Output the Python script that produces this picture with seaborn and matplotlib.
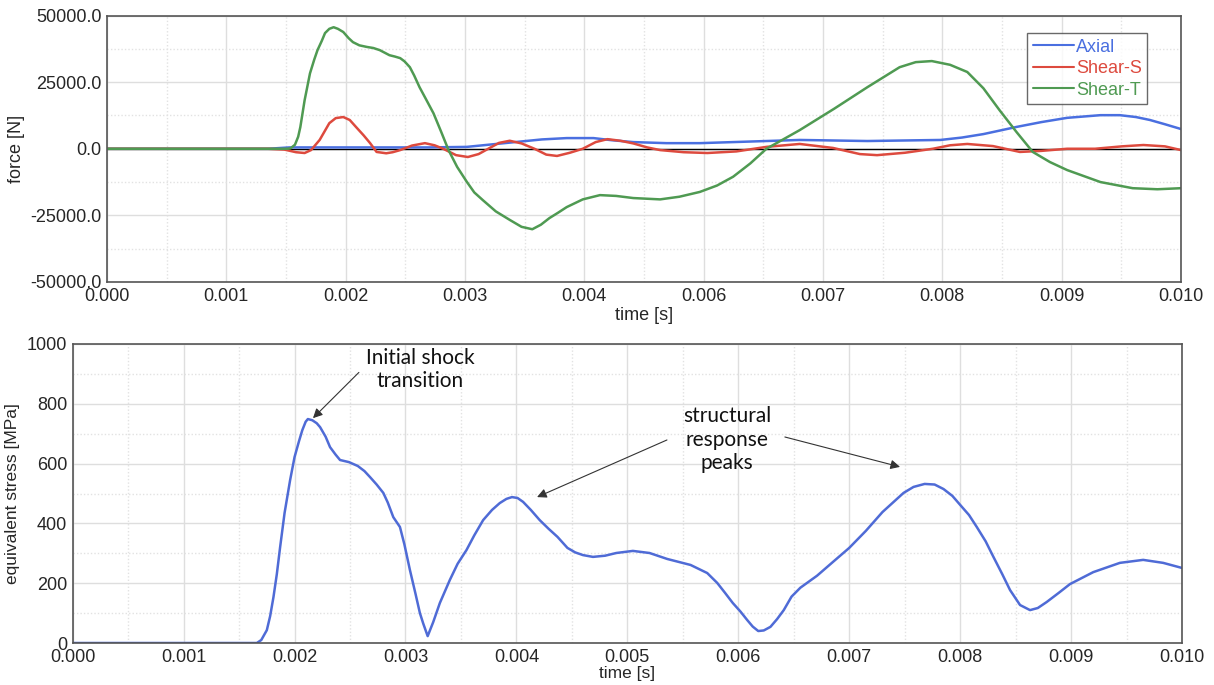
import numpy as np
import pandas as pd
import seaborn as sns
import matplotlib.pyplot as plt
from matplotlib.ticker import FixedLocator, MultipleLocator

# --- data (time in s) ---
axial_t = [0.0, 0.0015, 0.0017, 0.0030, 0.00335, 0.00355, 0.0038, 0.00405, 0.00428, 0.00453,
           0.0047, 0.0049, 0.00521, 0.00552, 0.00583, 0.00614, 0.00645, 0.00708, 0.00776,
           0.00796, 0.00816, 0.00831, 0.00847, 0.0087, 0.00894, 0.00925, 0.00943, 0.00958,
           0.00971, 0.00985, 0.0100]
axial_f = [0, 0, 500, 500, 700, 1500, 2500, 3500, 4000, 4000,
           3200, 2500, 2100, 2100, 2500, 2900, 3300, 2900, 3300,
           4200, 5500, 6800, 8200, 10000, 11600, 12600, 12600, 11900,
           10800, 9200, 7400]

shear_s_t = [0.0, 0.0015, 0.00165, 0.00176, 0.00184, 0.0019, 0.00198, 0.00207, 0.00213, 0.0022,
             0.00226, 0.00232, 0.00239, 0.00245, 0.00251, 0.0026, 0.00266, 0.00273, 0.00284,
             0.00296, 0.00305, 0.00313, 0.00325, 0.00336, 0.00346, 0.00355, 0.00365, 0.00375,
             0.00386, 0.00398, 0.00409, 0.00419, 0.00431, 0.00443, 0.00455, 0.00466, 0.00478,
             0.0049, 0.00503, 0.00515, 0.00537, 0.00559, 0.00586, 0.00614, 0.00645, 0.00676,
             0.00701, 0.00717, 0.00743, 0.00769, 0.00785, 0.00801, 0.00825, 0.0085, 0.0087,
             0.00894, 0.0092, 0.00945, 0.00965, 0.00985, 0.0100]
shear_s_f = [0, 0, -300, -1300, -1600, -500, 3300, 9600, 11500, 11900,
             10800, 8100, 5000, 2100, -1200, -1700, -1300, -500, 1200,
             2100, 1300, 0, -2400, -3100, -2000, 0, 2200, 3000,
             2000, 0, -2200, -2700, -1500, 0, 2500, 3600, 3000,
             2000, 500, -500, -1300, -1600, -1000, 700, 1800, 300,
             -2000, -2400, -1500, 0, 1300, 1800, 1000, -1200, -800,
             0, 0, 900, 1400, 900, -500]

shear_t_t = [0.0, 0.00168, 0.00171, 0.00175, 0.00178, 0.0018, 0.00184, 0.00189, 0.00193, 0.00196,
             0.0020, 0.00203, 0.00207, 0.00211, 0.00215, 0.0022, 0.00225, 0.00229, 0.00235,
             0.00242, 0.00248, 0.00254, 0.00263, 0.00268, 0.00273, 0.00277, 0.00282, 0.00286,
             0.00291, 0.00297, 0.00304, 0.00311, 0.00318, 0.00326, 0.00335, 0.00342, 0.0035,
             0.00362, 0.00375, 0.00386, 0.00396, 0.00404, 0.00412, 0.0042, 0.00428, 0.00443,
             0.00459, 0.00474, 0.0049, 0.00515, 0.00533, 0.00552, 0.00568, 0.00583, 0.00599,
             0.00614, 0.0063, 0.00645, 0.00677, 0.00708, 0.00738, 0.00753, 0.00768, 0.00785,
             0.00801, 0.00816, 0.00831, 0.00847, 0.00862, 0.00878, 0.00894, 0.00925, 0.00955,
             0.00978, 0.0100]
shear_t_f = [0, 0, 200, 1500, 4500, 8100, 18200, 28300, 33500, 37000,
             40500, 43400, 45000, 45600, 45000, 43800, 41500, 40000, 38800,
             38200, 37800, 37000, 35100, 34600, 34000, 32800, 30600, 27500,
             23100, 18600, 13300, 6500, -500, -6800, -12400, -16400, -19300,
             -23500, -26700, -29300, -30200, -28500, -26000, -24000, -21900, -19000,
             -17400, -17700, -18500, -19000, -18000, -16200, -13800, -10500, -5500,
             0, 3600, 7000, 15000, 23100, 30600, 32500, 32900, 31500,
             28800, 22700, 14500, 6200, -1200, -5000, -8000, -12500, -14800,
             -15200, -14800]

stress_t = [0.0, 0.00166, 0.0017, 0.00175, 0.00178, 0.00181, 0.00184, 0.00187, 0.00191, 0.00196,
            0.0020, 0.00204, 0.00207, 0.0021, 0.00212, 0.00216, 0.0022, 0.00223, 0.00228,
            0.00232, 0.00237, 0.00241, 0.00249, 0.00257, 0.00263, 0.00268, 0.00274, 0.0028,
            0.00284, 0.00289, 0.00295, 0.00299, 0.00304, 0.00309, 0.00313, 0.00316, 0.0032,
            0.00325, 0.00331, 0.0034, 0.00347, 0.00355, 0.00362, 0.0037, 0.00378, 0.00385,
            0.00391, 0.00396, 0.00401, 0.00406, 0.00413, 0.00421, 0.00429, 0.00437, 0.00446,
            0.00453, 0.0046, 0.00469, 0.0048, 0.0049, 0.00505, 0.0052, 0.00536, 0.00557,
            0.00572, 0.00581, 0.00588, 0.00595, 0.00602, 0.00608, 0.00613, 0.00618, 0.00623,
            0.00629, 0.00635, 0.00641, 0.00648, 0.00656, 0.00671, 0.00685, 0.0070, 0.00715,
            0.0073, 0.00749, 0.00758, 0.00768, 0.00777, 0.00785, 0.00793, 0.0080, 0.00808,
            0.00815, 0.00823, 0.0083, 0.00838, 0.00845, 0.00854, 0.00863, 0.0087, 0.00878,
            0.00889, 0.00899, 0.0092, 0.00944, 0.00965, 0.00983, 0.0100]
stress_v = [0, 0, 10, 43, 90, 154, 230, 321, 435, 545,
            622, 675, 712, 740, 749, 745, 735, 722, 690,
            655, 630, 612, 605, 592, 575, 555, 530, 502,
            470, 421, 388, 330, 244, 165, 100, 65, 23,
            70, 134, 211, 265, 311, 360, 411, 445, 468,
            482, 488, 485, 472, 445, 411, 382, 355, 318,
            303, 294, 288, 292, 301, 308, 301, 281, 261,
            234, 201, 168, 134, 105, 77, 55, 40, 42,
            54, 80, 110, 155, 185, 225, 270, 318, 375,
            438, 502, 522, 532, 530, 515, 492, 462, 428,
            388, 340, 288, 230, 177, 127, 110, 117, 137,
            168, 197, 237, 268, 278, 268, 251]

components = ["Axial", "Shear-S", "Shear-T"]
comp_colors = ["#4a6fe0", "#dd4a3e", "#4f9a52"]
top_xticklabels = ["0.000", "0.001", "0.002", "0.003", "0.004", "0.006", "0.007", "0.008", "0.009", "0.010"]
top_yticklabels = ["-50000.0", "-25000.0", "0.0", "25000.0", "50000.0"]
bot_xticklabels = ["0.000", "0.001", "0.002", "0.003", "0.004", "0.005", "0.006", "0.007", "0.008", "0.009", "0.010"]

force_df = pd.concat([
    pd.DataFrame({"time": axial_t, "force": axial_f, "component": "Axial"}),
    pd.DataFrame({"time": shear_s_t, "force": shear_s_f, "component": "Shear-S"}),
    pd.DataFrame({"time": shear_t_t, "force": shear_t_f, "component": "Shear-T"}),
])
stress_df = pd.DataFrame({"time": stress_t, "stress": stress_v})

sns.set_style("white")
plt.rcParams["font.family"] = ["Liberation Sans", "DejaVu Sans"]

fig = plt.figure(figsize=(12.14, 6.85), dpi=100)
W, H = 1214, 685
ax1 = fig.add_axes([107 / W, 1 - 282 / H, (1181 - 107) / W, (282 - 15.5) / H])
ax2 = fig.add_axes([72.7 / W, 1 - 643 / H, (1182 - 72.7) / W, (643 - 344) / H])

def style_grid(ax):
    ax.grid(which="major", color="#dedede", lw=1.0, ls="-")
    ax.grid(which="minor", color="#e2e2e2", lw=1.0, ls=(0, (1, 1.5)))
    ax.set_axisbelow(True)
    ax.tick_params(which="both", length=0, labelsize=13, pad=4)
    for s in ax.spines.values():
        s.set_color("#555555")
        s.set_linewidth(1.2)

# top: forces
sns.lineplot(data=force_df, x="time", y="force", hue="component", hue_order=components,
             palette=comp_colors, estimator=None, sort=False, lw=1.8, ax=ax1)
ax1.axhline(0, color="black", lw=1.0, zorder=1.5)
ax1.set_xlim(0, 0.010)
ax1.set_ylim(-50000, 50000)
xt = np.linspace(0, 0.010, 10)
ax1.xaxis.set_major_locator(FixedLocator(xt))
ax1.xaxis.set_minor_locator(FixedLocator(xt[:-1] + 0.010 / 18))
ax1.set_xticklabels(top_xticklabels)
ax1.yaxis.set_minor_locator(MultipleLocator(12500))
ax1.set_yticks([-50000, -25000, 0, 25000, 50000])
ax1.set_yticklabels(top_yticklabels)
style_grid(ax1)
ax1.set_xlabel("time [s]", fontsize=13, labelpad=2)
ax1.set_ylabel("force [N]", fontsize=13, labelpad=4)

leg = ax1.legend(loc="upper left", bbox_to_anchor=(0.857, 0.934), borderaxespad=0,
                 fancybox=False, frameon=True, fontsize=13, handlelength=2.3,
                 handletextpad=0.1, labelspacing=0.25, borderpad=0.3, title=None)
leg.get_frame().set_edgecolor("#444444")
leg.get_frame().set_linewidth(1.0)
for txt, c in zip(leg.get_texts(), comp_colors):
    txt.set_color(c)
for ln in leg.get_lines():
    ln.set_linewidth(1.5)

# bottom: equivalent stress
sns.lineplot(data=stress_df, x="time", y="stress", color="#4f6bd6", lw=1.8,
             estimator=None, sort=False, ax=ax2)
ax2.set_xlim(0, 0.010)
ax2.set_ylim(0, 1000)
ax2.set_xticks(np.linspace(0, 0.010, 11))
ax2.xaxis.set_minor_locator(MultipleLocator(0.0005))
ax2.set_xticklabels(bot_xticklabels)
ax2.yaxis.set_major_locator(MultipleLocator(200))
ax2.yaxis.set_minor_locator(MultipleLocator(100))
style_grid(ax2)
ax2.set_xlabel("time [s]", fontsize=12.5, labelpad=0)
ax2.set_ylabel("equivalent stress [MPa]", fontsize=12.5, labelpad=5)

ann_font = dict(family=["Lato", "DejaVu Sans"], fontsize=15, color="#111111",
                ha="center", va="center", linespacing=1.2)
ax2.text(0.00313, 915, "Initial shock\ntransition", **ann_font)
ax2.text(0.0059, 680, "structural\nresponse\npeaks", **ann_font)

arrow = dict(arrowstyle="-|>", color="#333333", lw=0.8, mutation_scale=14,
             shrinkA=0, shrinkB=0)
ax2.annotate("", xy=(0.002166, 752), xytext=(0.00258, 905), arrowprops=arrow)
ax2.annotate("", xy=(0.004186, 488), xytext=(0.005357, 679), arrowprops=arrow)
ax2.annotate("", xy=(0.007458, 589), xytext=(0.00642, 689), arrowprops=arrow)

fig.savefig("out.png", dpi=100)
